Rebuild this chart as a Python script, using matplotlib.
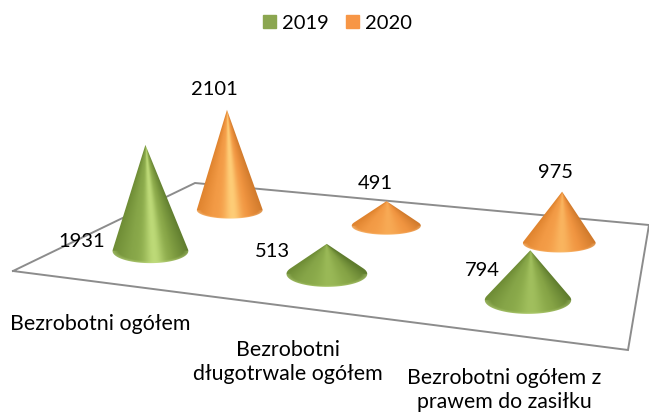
import numpy as np
import matplotlib
matplotlib.use("Agg")
import matplotlib.pyplot as plt
from matplotlib.patches import Patch, PathPatch
from matplotlib.path import Path

plt.rcParams['font.family'] = ['Lato', 'DejaVu Sans']

categories = ["Bezrobotni ogółem", "Bezrobotni\ndługotrwale ogółem", "Bezrobotni ogółem z\nprawem do zasiłku"]
series_names = ["2019", "2020"]
values_2019 = [1931, 513, 794]
values_2020 = [2101, 491, 975]

# floor of the 3d box in pixels: front left, front right, back right, back left
floor = [(13, 271), (628, 350), (649, 225), (195, 183)]
value_scale = 0.00145       # height per value per unit of base radius
lean = 0.00025              # perspective tilt of the cone tip
base_radius = 37.0

green = {"stops": ["#6f8d36", "#86a548", "#8eae4c", "#85a345", "#5f7c2e"], "hi": "#c6e280", "legend": "#8ba650",
         "rim": "#c4dc8a", "flat": 0.32}
orange = {"stops": ["#e0842f", "#f29a45", "#f6a04b", "#f09440", "#d07a2c"], "hi": "#ffd27c", "legend": "#f79646",
          "rim": "#ffd9a6", "flat": 0.26}


def homography(corners):
    src = [(0, 0), (1, 0), (1, 1), (0, 1)]
    A, b = [], []
    for (u, v), (x, y) in zip(src, corners):
        A.append([u, v, 1, 0, 0, 0, -u * x, -v * x])
        A.append([0, 0, 0, u, v, 1, -u * y, -v * y])
        b += [x, y]
    h = np.linalg.solve(np.array(A, float), np.array(b, float))
    return np.append(h, 1).reshape(3, 3)


H = homography(floor)


def project(u, v):
    p = H @ np.array([u, v, 1.0])
    return p[0] / p[2], p[1] / p[2], 1 / p[2]


ref_w = project(0.5, 0.5)[2]


def gradient(t, style, strength):
    stops = np.array([matplotlib.colors.to_rgb(c) for c in style["stops"]])
    pos = np.linspace(-1, 1, len(stops))
    rgb = np.stack([np.interp(t, pos, stops[:, i]) for i in range(3)], axis=-1)
    hi = np.array(matplotlib.colors.to_rgb(style["hi"]))
    k = strength * np.exp(-((t - 0.08) / 0.24) ** 2)
    return rgb + (hi - rgb) * k[..., None]


def cone(ax, x, y, s, value, style):
    rx = base_radius * s
    ry = rx * style["flat"]
    h = value * value_scale * rx
    tip_x = x + lean * h * (x - 340)
    tip_y = y - h

    # outline: tip, then round the front of the base
    t0 = np.arcsin(-ry / h)
    ang = np.linspace(t0, np.pi - t0, 60)
    px = x + rx * np.cos(ang)
    py = y + ry * np.sin(ang)
    verts = [(tip_x, tip_y)] + list(zip(px, py)) + [(tip_x, tip_y)]
    codes = [Path.MOVETO] + [Path.LINETO] * len(px) + [Path.CLOSEPOLY]
    path = Path(verts, codes)

    # shading runs from the tip down to the base
    x0, x1 = x - rx - 2, x + rx + 2
    y0, y1 = tip_y - 1, y + ry + 2
    gx, gy = np.meshgrid(np.linspace(x0, x1, 240), np.linspace(y0, y1, 240))
    frac = np.clip((gy - tip_y) / h, 0.01, None)
    cx = tip_x + (x - tip_x) * frac
    t = np.clip((gx - cx) / (rx * frac), -1, 1)
    strength = min(1.0, h / (3.0 * rx)) * 0.9
    img = gradient(t, style, strength)

    # pale rim along the front of the base
    r = np.hypot((gx - x) / rx, (gy - y) / ry)
    rim = np.clip((r - 0.86) / 0.14, 0, 1) * (gy > y) * 0.45
    img = img + (np.array(matplotlib.colors.to_rgb(style["rim"])) - img) * rim[..., None]

    im = ax.imshow(np.clip(img, 0, 1), extent=(x0, x1, y1, y0), aspect="auto", interpolation="bilinear", zorder=3)
    patch = PathPatch(path, fc="none", ec="none", transform=ax.transData)
    ax.add_patch(patch)
    im.set_clip_path(patch)
    return tip_x, tip_y


fig = plt.figure(figsize=(6.49, 4.12), dpi=100)
ax = fig.add_axes([0, 0, 1, 1])

# floor
fx = [p[0] for p in floor] + [floor[0][0]]
fy = [p[1] for p in floor] + [floor[0][1]]
ax.plot(fx, fy, color="#8c8c8c", lw=1.4, solid_joinstyle="miter", zorder=1)

# depth on the floor, drift of depth per category, sideways shift and stretch of each row
row_2019 = (0.265, -0.018, -0.001, 0.006)
row_2020 = (0.72, 0.0, 0.01, 0.003)
label_offset_2019 = [(-64, 97), (-54, 8), (-48, 20)]
label_offset_2020 = [(-13, -20), (-11, -18), (-7, -19)]

# back row first so the front one overlaps it
for values, row, style, offsets in [(values_2020, row_2020, orange, label_offset_2020),
                                    (values_2019, row_2019, green, label_offset_2019)]:
    depth, drift, shift, stretch = row
    for i, val in enumerate(values):
        u = (i + 0.5) / len(categories) + shift + stretch * (i - 1)
        x, y, w = project(u, depth + drift * i)
        tx, ty = cone(ax, x, y, w / ref_w, val, style)
        ax.text(tx + offsets[i][0], ty + offsets[i][1], str(val), ha="center", va="center",
                fontsize=14.5, color="#000000", zorder=5)

ax.text(100, 324, categories[0], ha="center", va="center", fontsize=15.4, color="#000000")
ax.text(288, 362, categories[1], ha="center", va="center", fontsize=15.4, linespacing=1.28, color="#000000")
ax.text(504, 390, categories[2], ha="center", va="center", fontsize=15.3, linespacing=1.22, color="#000000")

handles = [Patch(color=green["legend"], label=series_names[0]), Patch(color=orange["legend"], label=series_names[1])]
fig.legend(handles=handles, loc="upper center", bbox_to_anchor=(0.52, 1.008), ncol=2, frameon=False,
           fontsize=14.5, handlelength=0.65, handleheight=0.65, handletextpad=0.28, columnspacing=0.85)

ax.set_xlim(0, 649)
ax.set_ylim(412, 0)
ax.axis("off")

fig.savefig("out.png", dpi=100)
